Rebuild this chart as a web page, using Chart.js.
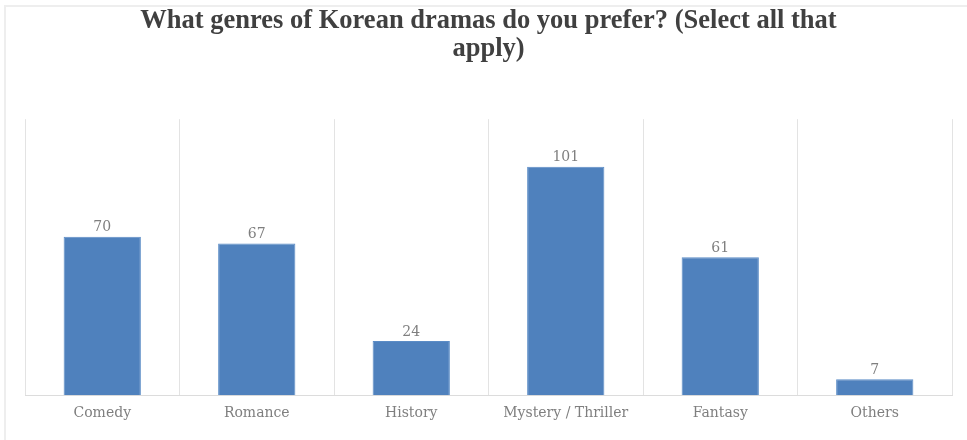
<!DOCTYPE html>
<html>
<head>
<meta charset="utf-8">
<script src="https://cdn.jsdelivr.net/npm/chart.js@4"></script>
<style>
  html, body { margin: 0; padding: 0; background: #fff; }
  #wrap { position: absolute; left: 0; top: 0; width: 967px; height: 440px; }
  #frame { position: absolute; left: 4px; top: 5px; width: 970px; height: 440px;
           border-left: 2px solid #eeeeee; border-top: 2px solid #eeeeee; box-sizing: border-box; }
</style>
</head>
<body>
<div id="wrap">
  <div id="frame"></div>
  <canvas id="grafico" width="967" height="440"></canvas>
</div>
<script>
const generos = ['Comedy', 'Romance', 'History', 'Mystery / Thriller', 'Fantasy', 'Others'];
const respostas = [70, 67, 24, 101, 61, 7];
const titulo = ['What genres of Korean dramas do you prefer? (Select all that', 'apply)'];

// rótulos de valor acima de cada barra
const rotulosBarras = {
  id: 'rotulosBarras',
  afterDatasetsDraw(chart) {
    const ctx = chart.ctx;
    const meta = chart.getDatasetMeta(0);
    ctx.save();
    ctx.font = '14px "DejaVu Serif"';
    ctx.fillStyle = '#7f7f7f';
    ctx.textAlign = 'center';
    ctx.textBaseline = 'bottom';
    meta.data.forEach(function(barra, i) {
      ctx.fillText(String(respostas[i]), barra.x, barra.y - 2);
    });
    ctx.restore();
  }
};

const ctx = document.getElementById('grafico').getContext('2d');
const grafico = new Chart(ctx, {
  type: 'bar',
  data: {
    labels: generos,
    datasets: [{
      label: 'Respostas',
      data: respostas,
      backgroundColor: '#4f81bd',
      borderColor: '#5b8cc6',
      borderWidth: 1,
      barPercentage: 0.5,
      categoryPercentage: 1
    }]
  },
  options: {
    responsive: false,
    animation: false,
    layout: { padding: { left: 25, right: 15, top: 0, bottom: 8 } },
    plugins: {
      legend: { display: false },
      tooltip: { enabled: false },
      title: {
        display: true,
        text: titulo,
        color: '#404040',
        font: { family: '"Liberation Serif"', size: 26.5, weight: 'bold', lineHeight: 1.06 },
        padding: { top: 7, bottom: 56 }
      }
    },
    scales: {
      x: {
        offset: true,
        grid: {
          offset: true,
          drawTicks: false,
          color: function(c) { return c.index === generos.length ? 'rgba(0,0,0,0)' : '#e3e3e3'; }
        },
        border: { color: '#dcdcdc' },
        ticks: {
          color: '#7f7f7f',
          padding: 10,
          font: { family: '"DejaVu Serif"', size: 14 }
        }
      },
      y: {
        display: false,
        min: 0,
        max: 122
      }
    }
  },
  plugins: [rotulosBarras]
});
</script>
</body>
</html>
